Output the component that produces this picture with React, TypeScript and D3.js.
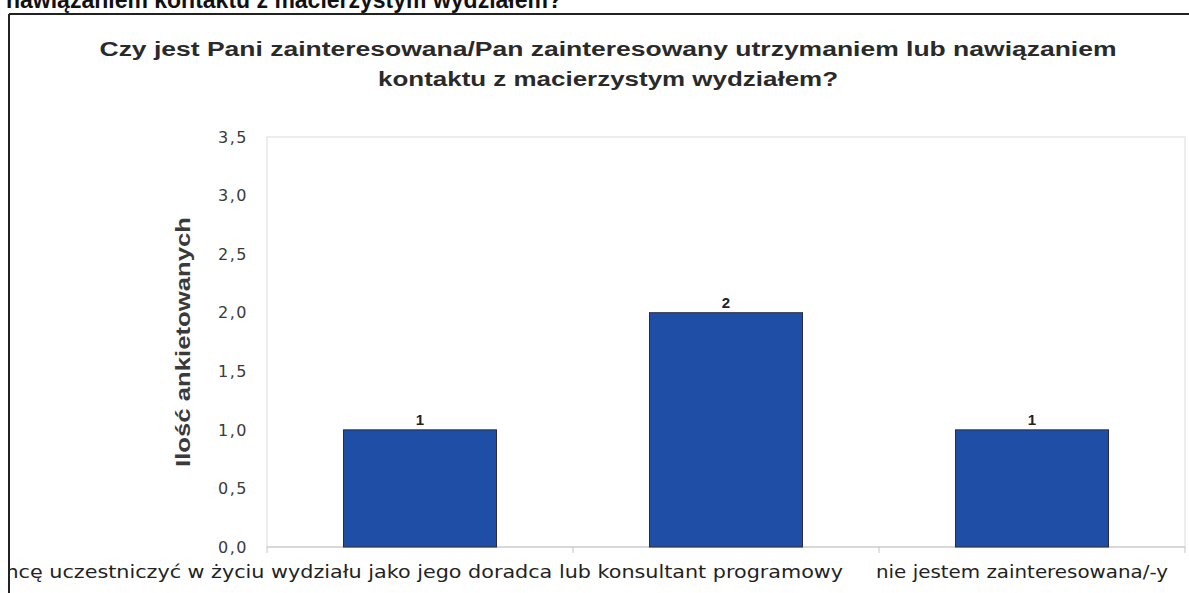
import React from "react";
import * as d3 from "d3";

const categories = [
  "Chcę uczestniczyć w życiu wydziału jako jego doradca lub konsultant programowy",
  "",
  "nie jestem zainteresowana/-y",
];
const categoryKeys = ["a", "b", "c"];
const values = [1, 2, 1];
const yTicks = [0, 0.5, 1, 1.5, 2, 2.5, 3, 3.5];
const titleLines = [
  "Czy jest Pani zainteresowana/Pan zainteresowany utrzymaniem lub nawiązaniem",
  "kontaktu z macierzystym wydziałem?",
];
const headerText = "nawiązaniem kontaktu z macierzystym wydziałem?";
const yAxisTitle = "Ilość ankietowanych";

const W = 1189;
const H = 593;
const plot = { left: 267, right: 1185, top: 137, bottom: 547 };

export default function App() {
  const x = d3
    .scaleBand<string>()
    .domain(categoryKeys)
    .range([plot.left, plot.right])
    .paddingInner(0.5)
    .paddingOuter(0.25);
  const y = d3.scaleLinear().domain([0, 3.5]).range([plot.bottom, plot.top]);
  const fmt = (v: number) => d3.format(".1f")(v).replace(".", ",");
  const step = x.step();
  const boundaries = d3.range(categoryKeys.length + 1).map((i) => plot.left + i * step);
  const labelLengths = [852, 0, 292];
  const labelDx = [-3, 0, -10];

  return (
    <svg
      width={W}
      height={H}
      style={{ position: "absolute", left: 0, top: 0, background: "#fff" }}
    >
      <defs>
        <clipPath id="chartClip">
          <rect x={10} y={14} width={W - 10} height={H - 14} />
        </clipPath>
      </defs>
      {/* header text above the chart, partly outside the picture */}
      <text
        x={6}
        y={8}
        fontFamily="'Liberation Sans', Arial, sans-serif"
        fontWeight="bold"
        fontSize={24}
        fill="#111"
        textLength={556}
        lengthAdjust="spacingAndGlyphs"
      >
        {headerText}
      </text>
      {/* chart outer border */}
      <line x1={9} y1={14} x2={W} y2={14} stroke="#222" strokeWidth={2} />
      <line x1={9} y1={14} x2={9} y2={H} stroke="#222" strokeWidth={2} />

      {/* title */}
      {titleLines.map((t, i) => (
        <text
          key={i}
          x={608}
          y={56 + i * 30}
          textAnchor="middle"
          fontFamily="'Liberation Sans', Arial, sans-serif"
          fontWeight="bold"
          fontSize={20}
          fill="#2a2a2a"
          textLength={i === 0 ? 1017 : 460}
          lengthAdjust="spacingAndGlyphs"
        >
          {t}
        </text>
      ))}

      {/* plot area */}
      <rect
        x={plot.left}
        y={plot.top}
        width={plot.right - plot.left}
        height={plot.bottom - plot.top}
        fill="#fff"
        stroke="#dcdcdc"
        strokeWidth={1}
      />
      {/* x axis line and ticks */}
      <line x1={plot.left} y1={plot.bottom} x2={plot.right} y2={plot.bottom} stroke="#c4c4c4" strokeWidth={1} />
      {boundaries.map((bx, i) => (
        <line key={i} x1={bx} y1={plot.bottom} x2={bx} y2={plot.bottom + 6} stroke="#c4c4c4" strokeWidth={1} />
      ))}

      {/* y tick labels */}
      {yTicks.map((t) => (
        <text
          key={t}
          x={248}
          y={y(t)}
          dy="0.36em"
          textAnchor="end"
          fontFamily="'DejaVu Sans', Verdana, sans-serif"
          fontSize={16}
          letterSpacing={1.5}
          fill="#3a3a3a"
        >
          {fmt(t)}
        </text>
      ))}

      {/* y axis title */}
      <text
        transform={`translate(190, ${(217 + 467) / 2}) rotate(-90)`}
        textAnchor="middle"
        fontFamily="'Liberation Sans', Arial, sans-serif"
        fontWeight="bold"
        fontSize={21}
        fill="#3a3a3a"
        textLength={250}
        lengthAdjust="spacingAndGlyphs"
      >
        {yAxisTitle}
      </text>

      {/* bars */}
      {values.map((v, i) => (
        <g key={i}>
          <rect
            x={x(categoryKeys[i])!}
            y={y(v)}
            width={x.bandwidth()}
            height={y(0) - y(v)}
            fill="#1f4ea6"
            stroke="#2a2a3a"
            strokeWidth={1}
          />
          <text
            x={x(categoryKeys[i])! + x.bandwidth() / 2}
            y={y(v) - 5}
            textAnchor="middle"
            fontFamily="'Liberation Sans', Arial, sans-serif"
            fontWeight="bold"
            fontSize={15}
            fill="#222"
          >
            {v}
          </text>
        </g>
      ))}

      {/* category labels */}
      <g clipPath="url(#chartClip)">
        {categories.map((c, i) =>
          c ? (
            <text
              key={i}
              x={x(categoryKeys[i])! + x.bandwidth() / 2 + labelDx[i]}
              y={578}
              textAnchor="middle"
              fontFamily="'DejaVu Sans', Verdana, sans-serif"
              fontSize={17}
              fill="#222"
              textLength={labelLengths[i]}
              lengthAdjust="spacingAndGlyphs"
            >
              {c}
            </text>
          ) : null
        )}
      </g>
    </svg>
  );
}
